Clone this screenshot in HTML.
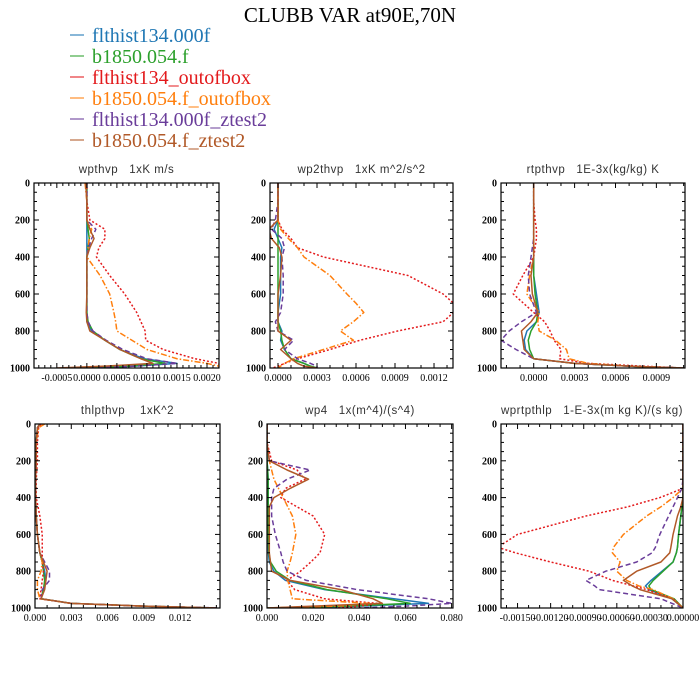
<!DOCTYPE html>
<html><head><meta charset="utf-8">
<style>
html,body{margin:0;padding:0;background:#fff;}
svg{display:block;}
.tl{font-family:"Liberation Serif",serif;font-size:10px;fill:#000;}
.pt{font-family:"Liberation Sans",sans-serif;font-size:11.5px;fill:#333;letter-spacing:0.5px;white-space:pre;}
.lg{font-family:"Liberation Serif",serif;font-size:20px;}
</style></head>
<body>
<svg id="chart" width="700" height="700" viewBox="0 0 700 700" xmlns="http://www.w3.org/2000/svg">
<text x="350" y="22" text-anchor="middle" font-family="Liberation Serif, serif" font-size="21">CLUBB VAR at90E,70N</text>
<g id="legend"></g>
<g id="panels"></g>
</svg>
<script>
const seriesNames = ["flthist134.000f","b1850.054.f","flthist134_outofbox","b1850.054.f_outofbox","flthist134.000f_ztest2","b1850.054.f_ztest2"];
const seriesColors = ["#1f77b4","#2ca02c","#e31a1c","#ff7f0e","#6a3d9a","#b15928"];
const seriesDash = ["","","2,2","6,2,1.5,2","5,3",""];

// panel 1: wpthvp
const p1Levels = [0,100,200,250,300,350,400,500,600,700,750,800,850,900,950,975,990,1000];
const p1Blue   = [0,0,0,0,0,0,0,0,0,0,0,0.00008,0.0003,0.00055,0.00095,0.0015,0.0008,0.0001];
const p1Green  = [0,0,0,0.00002,0.00004,0.00002,0,0,0,0,0.00002,0.0001,0.0003,0.00055,0.0009,0.0013,0.0007,0];
const p1Red    = [0,0,0.00005,0.0003,0.0003,0.0002,0.00016,0.00038,0.00063,0.00083,0.0009,0.00097,0.00098,0.00127,0.0018,0.0022,0.0022,0.0022];
const p1Orange = [-0.00003,0,0,0.00008,0.00004,0.00002,0,0.00022,0.00038,0.00045,0.00048,0.0005,0.00075,0.001,0.0015,0.002,0.0022,0.0022];
const p1Purple = [0,0,0,0.00015,0.00008,0.00003,0,0,0,0,0.00002,0.0001,0.00032,0.0006,0.001,0.0015,0.0008,0];
const p1Brown  = [-0.00002,0,0,0.00005,0.00012,0.00005,0,0,0,-0.00001,0,0.00005,0.0003,0.00055,0.0009,0.0011,0.0003,-0.0005];
const p1Ticks  = [-0.0005,0,0.0005,0.001,0.0015,0.002];
const p1Labels = ["-0.0005","0.0000","0.0005","0.0010","0.0015","0.0020"];

// panel 2: wp2thvp
const p2Levels = [0,100,200,250,300,350,400,500,600,650,700,750,800,850,900,950,975,990,1000];
const p2Blue   = [0,0,0,-0.00003,0,0.00003,0.00002,0.00002,0.00002,0.00001,0,0,0.00003,0.00002,0.00005,0.0001,0.0002,0.00025,0.0003];
const p2Green  = [0,0,0,0,0,0,0,0,0,0,0,0,0.00002,0.00003,0.00005,0.0001,0.0002,0.00025,0.0003];
const p2Red    = [0,0,0,0.00003,0.0001,0.00015,0.00035,0.001,0.00127,0.00135,0.00135,0.00127,0.00092,0.00063,0.0004,0.00015,0.00005,0,-0.00004];
const p2Orange = [0,0,0,0.00002,0.00008,0.00015,0.0002,0.0004,0.00053,0.0006,0.00066,0.00058,0.00048,0.00058,0.00035,0.00012,0.00005,0.00002,0];
const p2Purple = [0,0,-0.00002,-0.00005,0.00003,0.00005,0.00003,0.00004,0.00004,0.00003,0.00002,-0.00002,0,0.00012,0.00005,0.00015,0.00025,0.0003,0.0003];
const p2Brown  = [0,0,0,-0.00007,-0.00005,0.00001,0.00003,0.00002,0,0,0,0,0,0.0001,0.00002,0.0001,0.00015,0.0002,0.0003];
const p2Ticks  = [0,0.0003,0.0006,0.0009,0.0012];
const p2Labels = ["0.0000","0.0003","0.0006","0.0009","0.0012"];

// panel 3: rtpthvp
const p3Levels = [0,100,200,250,300,350,400,500,600,700,750,800,850,900,950,975,990,1000];
const p3Blue   = [0,0,0,0,0,0,0,0,0.00002,0.00004,0.00002,-0.00005,-0.00007,-0.00006,0,0.0003,0.0007,0.0011];
const p3Green  = [0,0,0,0,0,0,0,0,0.00001,0.00003,0.00002,-0.00002,-0.00004,-0.00003,0,0.0003,0.0007,0.0011];
const p3Red    = [0,0,0.00001,0.00002,0.00002,0.00001,0,-0.00008,-0.00015,0,0.00008,0.00012,0.00015,0.0002,0.00019,0.0004,0.0008,0.0011];
const p3Orange = [0,0,0,0,0,0,0,-0.00003,-0.00005,0.00004,0.00003,0.00004,0.00016,0.00024,0.00026,0.0004,0.0007,0.0011];
const p3Purple = [0,0,0,0,0,-0.00001,-0.00002,-0.00004,-0.00003,0.00002,-0.00009,-0.00018,-0.00024,-0.00013,0,0.0003,0.0007,0.0011];
const p3Brown  = [0,0,0,0,0,0,0,-0.00002,-0.00001,0.00003,-0.00002,-0.00009,-0.00008,-0.00007,0,0.0003,0.0007,0.0011];
const p3Ticks  = [0,0.0003,0.0006,0.0009];
const p3Labels = ["0.0000","0.0003","0.0006","0.0009"];

// panel 4: thlpthvp
const p4Levels = [0,20,100,200,300,400,500,600,700,750,800,850,900,950,975,990,1000];
const p4Blue   = [0.0004,0.0002,0.0001,0.0001,0.00005,0.00005,0.0001,0.0002,0.0004,0.0006,0.0008,0.0009,0.0007,0.0005,0.003,0.009,0.015];
const p4Green  = [0.0004,0.0002,0.0001,0.0001,0.00005,0.00005,0.0001,0.0002,0.0004,0.0006,0.0007,0.0008,0.0007,0.0005,0.003,0.009,0.015];
const p4Red    = [0.0005,0.0003,0.0002,0.0002,0.0001,0.0001,0.0004,0.0006,0.0006,0.0006,0.0007,0.0006,0.0005,0.0004,0.003,0.009,0.015];
const p4Orange = [0.0008,0.0003,0.0001,0.0001,0.00005,0.00005,0.0001,0.0002,0.0004,0.0006,0.0005,0.0002,0.0002,0.0004,0.003,0.009,0.015];
const p4Purple = [0.0004,0.0002,0.0001,0.0001,0.00005,0.00005,0.0001,0.0002,0.0004,0.0008,0.0012,0.0012,0.0006,0.0005,0.003,0.009,0.0155];
const p4Brown  = [0.0004,0.0002,0.0001,0.0001,0.00005,0.00005,0.0001,0.0002,0.0004,0.0007,0.001,0.0009,0.0008,0.0005,0.003,0.009,0.015];
const p4Ticks  = [0,0.003,0.006,0.009,0.012];
const p4Labels = ["0.000","0.003","0.006","0.009","0.012"];

// panel 5: wp4
const p5Levels = [0,100,200,250,300,350,400,450,500,600,700,750,800,850,900,950,975,990,1000];
const p5Blue   = [0,0,0,0.0003,0.0005,0.0005,0.0005,0.0005,0.0005,0.0005,0.0006,0.001,0.003,0.008,0.025,0.055,0.07,0.04,0];
const p5Green  = [0,0,0,0.0003,0.0005,0.0005,0.0005,0.0005,0.0005,0.0005,0.0008,0.0015,0.004,0.01,0.026,0.052,0.062,0.035,0];
const p5Red    = [0,0,0.002,0.013,0.0165,0.008,0.006,0.013,0.02,0.025,0.023,0.019,0.0145,0.0087,0.012,0.025,0.048,0.04,0.03];
const p5Orange = [0,0,0.001,0.002,0.003,0.005,0.007,0.009,0.011,0.0125,0.011,0.01,0.0087,0.009,0.01,0.011,0.045,0.03,0];
const p5Purple = [0,0,0.001,0.0187,0.0087,0.003,0.002,0.002,0.002,0.0036,0.006,0.007,0.0087,0.017,0.039,0.07,0.08,0.06,0.04];
const p5Brown  = [0,0,0.001,0.0087,0.018,0.01,0.003,0.001,0.001,0.001,0.001,0.0015,0.002,0.01,0.032,0.046,0.05,0.02,0];
const p5Ticks  = [0,0.02,0.04,0.06,0.08];
const p5Labels = ["0.000","0.020","0.040","0.060","0.080"];

// panel 6: wprtpthlp
const p6Levels = [0,100,200,300,350,400,450,500,600,670,700,750,800,850,880,900,950,1000];
const p6Blue   = [0,0,0,0,0,0,-0.00001,-0.00002,-0.00004,-0.00005,-0.00006,-0.00009,-0.00019,-0.00029,-0.00034,-0.00031,-0.0001,0];
const p6Green  = [0,0,0,0,0,0,-0.00001,-0.00002,-0.00004,-0.00005,-0.00006,-0.00009,-0.00018,-0.00027,-0.00031,-0.00029,-0.00008,0];
const p6Red    = [0,0,0,0,0,-0.00021,-0.0005,-0.00088,-0.0015,-0.00168,-0.00152,-0.0012,-0.00085,-0.00064,-0.00045,-0.00033,-0.00009,0];
const p6Orange = [0,0,0,0,0,-0.00009,-0.0002,-0.00033,-0.00054,-0.00063,-0.00064,-0.00057,-0.0006,-0.00051,-0.0004,-0.00027,-0.00009,0];
const p6Purple = [0,0,0,0,-0.00001,-0.00005,-0.00009,-0.00013,-0.00021,-0.00025,-0.00028,-0.00042,-0.0007,-0.00088,-0.0008,-0.00076,-0.0002,0];
const p6Brown  = [0,0,0,0,0,0,-0.00002,-0.00005,-0.00009,-0.00011,-0.00012,-0.0002,-0.00042,-0.00054,-0.00046,-0.00039,-0.0001,0];
const p6Ticks  = [-0.0015,-0.0012,-0.0009,-0.0006,-0.0003,0];
const p6Labels = ["-0.00150","-0.00120","-0.00090","-0.00060","-0.00030","0.00000"];

const yTicks = [0,200,400,600,800,1000];
const yLabels = ["0","200","400","600","800","1000"];

const panels = [
 {name:"wpthvp",title:"wpthvp   1xK m/s",x0:34,x1:219,y0:183,y1:368,xmin:-0.00088,xmax:0.0022,levels:p1Levels,series:[p1Blue,p1Green,p1Red,p1Orange,p1Purple,p1Brown],ticks:p1Ticks,labels:p1Labels,minor:5},
 {name:"wp2thvp",title:"wp2thvp   1xK m^2/s^2",x0:270,x1:453,y0:183,y1:368,xmin:-0.0000615,xmax:0.001346,levels:p2Levels,series:[p2Blue,p2Green,p2Red,p2Orange,p2Purple,p2Brown],ticks:p2Ticks,labels:p2Labels,minor:3},
 {name:"rtpthvp",title:"rtpthvp   1E-3x(kg/kg) K",x0:501,x1:685,y0:183,y1:368,xmin:-0.00024,xmax:0.00111,levels:p3Levels,series:[p3Blue,p3Green,p3Red,p3Orange,p3Purple,p3Brown],ticks:p3Ticks,labels:p3Labels,minor:3},
 {name:"thlpthvp",title:"thlpthvp    1xK^2",x0:35,x1:220,y0:424,y1:608,xmin:0,xmax:0.0153,levels:p4Levels,series:[p4Blue,p4Green,p4Red,p4Orange,p4Purple,p4Brown],ticks:p4Ticks,labels:p4Labels,minor:3},
 {name:"wp4",title:"wp4   1x(m^4)/(s^4)",x0:267,x1:453,y0:424,y1:608,xmin:0,xmax:0.0806,levels:p5Levels,series:[p5Blue,p5Green,p5Red,p5Orange,p5Purple,p5Brown],ticks:p5Ticks,labels:p5Labels,minor:4},
 {name:"wprtpthlp",title:"wprtpthlp   1-E-3x(m kg K)/(s kg)",x0:501,x1:683,y0:424,y1:608,xmin:-0.00165,xmax:0,levels:p6Levels,series:[p6Blue,p6Green,p6Red,p6Orange,p6Purple,p6Brown],ticks:p6Ticks,labels:p6Labels,minor:3}
];

const NS="http://www.w3.org/2000/svg";
function mk(tag,attrs,parent){const e=document.createElementNS(NS,tag);for(const k in attrs)e.setAttribute(k,attrs[k]);if(parent)parent.appendChild(e);return e;}

// legend
const leg=document.getElementById('legend');
seriesNames.forEach((n,i)=>{
  const y=35+i*21;
  const g=mk('g',{},leg);
  
  
  mk('line',{x1:70,x2:84,y1:y,y2:y,stroke:seriesColors[i],'stroke-width':1.5,opacity:0.7},g);
  const t=mk('text',{x:92,y:y+7,'class':'lg',fill:seriesColors[i]},g);
  t.textContent=n;
});

const root=document.getElementById('panels');
panels.forEach((p,pi)=>{
  const g=mk('g',{},root);
  
  
  const xs=v=>p.x0+(v-p.xmin)/(p.xmax-p.xmin)*(p.x1-p.x0);
  const ys=v=>p.y0+v/1000*(p.y1-p.y0);
  const t=mk('text',{x:(p.x0+p.x1)/2,y:p.y0-10,'text-anchor':'middle','class':'pt'},g);
  
  
  t.textContent=p.title;
  const cid='clip'+pi;
  const cp=mk('clipPath',{id:cid},g);
  mk('rect',{x:p.x0,y:p.y0,width:p.x1-p.x0,height:p.y1-p.y0},cp);
  const sg=mk('g',{'clip-path':'url(#'+cid+')'},g);
  p.series.forEach((vals,si)=>{
    const d=vals.map((v,k)=>(k?'L':'M')+xs(v).toFixed(2)+','+ys(p.levels[k]).toFixed(2)).join(' ');
    const path=mk('path',{d:d,fill:'none',stroke:seriesColors[si],'stroke-width':1.5,'stroke-linejoin':'round'},sg);
    if(seriesDash[si])path.setAttribute('stroke-dasharray',seriesDash[si]);
    
    
  });
  const fr=mk('rect',{x:p.x0,y:p.y0,width:p.x1-p.x0,height:p.y1-p.y0,fill:'none',stroke:'#000','stroke-width':1.2},g);
  
  
  const ya=mk('g',{},g);
  
  
  for(let v=0;v<=1000;v+=50){
    const y=ys(v);const L=(v%200===0)?5:3;
    mk('line',{x1:p.x0,x2:p.x0+L,y1:y,y2:y,stroke:'#000','stroke-width':1},ya);
    mk('line',{x1:p.x1,x2:p.x1-L,y1:y,y2:y,stroke:'#000','stroke-width':1},ya);
  }
  yTicks.forEach((v,k)=>{
    const tt=mk('text',{x:p.x0-4,y:ys(v)+3.5,'text-anchor':'end','class':'tl','font-weight':'bold'},ya);
    tt.textContent=yLabels[k];
  });
  const xa=mk('g',{},g);
  
  
  const step=p.ticks[1]-p.ticks[0];
  const ms=step/p.minor;
  for(let v=p.ticks[0]-step;v<=p.xmax+1e-12;v+=ms){
    if(v<p.xmin-1e-12)continue;
    const x=xs(v);
    const major=p.ticks.some(tv=>Math.abs(tv-v)<ms*0.1);
    const L=major?5:3;
    mk('line',{x1:x,x2:x,y1:p.y1,y2:p.y1-L,stroke:'#000','stroke-width':1},xa);
    mk('line',{x1:x,x2:x,y1:p.y0,y2:p.y0+L,stroke:'#000','stroke-width':1},xa);
  }
  p.ticks.forEach((v,k)=>{
    const tt=mk('text',{x:xs(v),y:p.y1+13,'text-anchor':'middle','class':'tl'},xa);
    tt.textContent=p.labels[k];
  });
});
</script>
</body></html>
